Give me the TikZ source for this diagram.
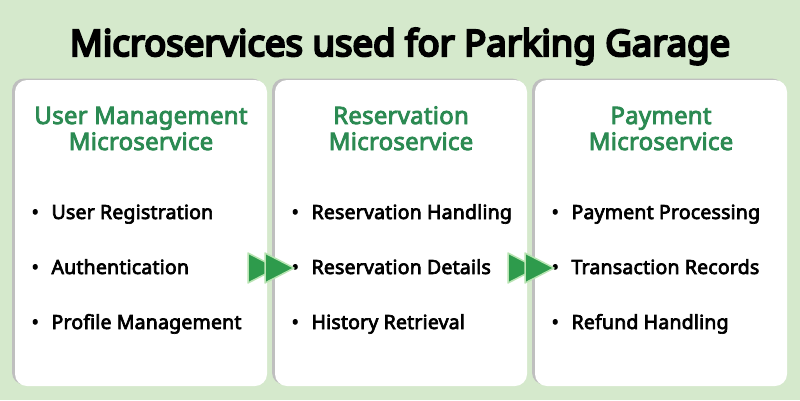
\documentclass[tikz,border=0pt]{standalone}
\usepackage{fontspec}
\setmainfont{Noto Sans}
\newfontfamily\medfont{Noto Sans}[FakeBold=3.5,LetterSpace=1]
\newfontfamily\heavyfont{Noto Sans}[FakeBold=6]
\usetikzlibrary{positioning}

\definecolor{bggreen}{HTML}{D5E9CC}
\definecolor{headgreen}{HTML}{2B8A52}
\definecolor{arrowgreen}{HTML}{2E9B4C}
\definecolor{arrowedge}{HTML}{B8E4B2}

\tikzset{
  svcbox/.style={fill=white, rounded corners=12pt, minimum width=252pt,
    minimum height=306pt, inner sep=0pt,
    preaction={fill=black!25, transform canvas={shift={(-3pt,1.5pt)}}}},
  svchead/.style={anchor=base, text=headgreen, align=center,
    font=\fontsize{24}{26}\selectfont\medfont},
  svcitem/.style={anchor=base west, font=\fontsize{19.5}{22}\selectfont\medfont},
  fwdtip/.style={fill=arrowgreen, draw=arrowedge, line width=1.5pt, line join=round},
}

\newcommand{\bul}{\makebox[21pt][l]{\hspace{1pt}\textbullet}}

\begin{document}
\begin{tikzpicture}[x=1pt,y=-1pt]
  \fill[bggreen] (0,0) rectangle (800,400);
  \useasboundingbox (0,0) rectangle (800,400);

  \node[anchor=base] (title) at (400,56)
    {\fontsize{36.5}{40}\selectfont\heavyfont Microservices used for Parking Garage};

  % the three services
  \node[svcbox] (user) at (141,233) {};
  \node[svcbox] (resv) at (401,233) {};
  \node[svcbox] (paym) at (661,233) {};

  \node[svchead] (userhead) at (141,150) {User Management\\Microservice};
  \node[svchead] (resvhead) at (401,150) {Reservation\\Microservice};
  \node[svchead] (paymhead) at (661,150) {Payment\\Microservice};

  \node[svcitem] (user1) at (27,219) {\bul User Registration};
  \node[svcitem] (user2) at (27,274) {\bul Authentication};
  \node[svcitem] (user3) at (27,329) {\bul Profile Management};

  \node[svcitem] (resv1) at (287,219) {\bul Reservation Handling};
  \node[svcitem] (resv2) at (287,274) {\bul Reservation Details};
  \node[svcitem] (resv3) at (287,329) {\bul History Retrieval};

  \node[svcitem] (paym1) at (547,219) {\bul Payment Processing};
  \node[svcitem] (paym2) at (547,274) {\bul Transaction Records};
  \node[svcitem] (paym3) at (547,329) {\bul Refund Handling};

  % forward arrows between the boxes
  \foreach \x in {248,508} {
    \draw[fwdtip] (\x,253) -- (\x+29,268) -- (\x,283) -- cycle;
    \draw[fwdtip] (\x+17,253) -- (\x+46,268) -- (\x+17,283) -- cycle;
  }
\end{tikzpicture}
\end{document}
